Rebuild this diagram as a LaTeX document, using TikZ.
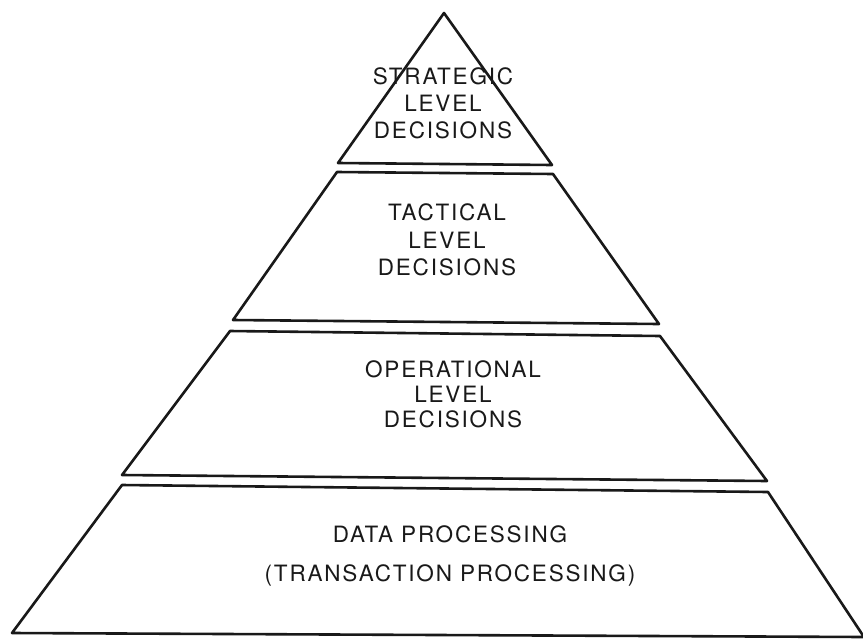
\documentclass[tikz,border=0pt]{standalone}
\usepackage{fontspec}
\setmainfont{TeX Gyre Heros}
\newfontfamily\tierfont[LetterSpace=8]{TeX Gyre Heros}
\begin{document}
\begin{tikzpicture}[x=1pt,y=-1pt,
  tier/.style={draw=black!90, line width=2.6pt, line join=round},
  tiertext/.style={inner sep=0pt, align=center, text=black!90}]
\useasboundingbox[fill=white] (0,0) rectangle (863,638);
% corners
\coordinate (apex) at (444,13);
\coordinate (t1bl) at (338,163);
\coordinate (t1br) at (552,165);
\coordinate (t2tl) at (337,172);
\coordinate (t2tr) at (553,174);
\coordinate (t2bl) at (233,320);
\coordinate (t2br) at (659,324);
\coordinate (t3tl) at (230,331);
\coordinate (t3tr) at (660,336);
\coordinate (t3bl) at (122,475);
\coordinate (t3br) at (767,481);
\coordinate (t4tl) at (122,485);
\coordinate (t4tr) at (768,492);
\coordinate (t4bl) at (12,633);
\coordinate (t4br) at (864,637);
% tiers
\draw[tier] (apex) -- (t1br) -- (t1bl) -- cycle;
\draw[tier] (t2tl) -- (t2tr) -- (t2br) -- (t2bl) -- cycle;
\draw[tier] (t3tl) -- (t3tr) -- (t3br) -- (t3bl) -- cycle;
\draw[tier] (t4tl) -- (t4tr) -- (t4br) -- (t4bl) -- cycle;
% labels
\node[tiertext, font=\tierfont\fontsize{22.5}{27}\selectfont] (l1) at (443,103)
  {STRATEGIC\\LEVEL\\DECISIONS};
\node[tiertext, font=\tierfont\fontsize{22.5}{27.5}\selectfont] (l2) at (447,240)
  {TACTICAL\\LEVEL\\DECISIONS};
\node[tiertext, font=\tierfont\fontsize{22.5}{25}\selectfont] (l3) at (453,394.5)
  {OPERATIONAL\\LEVEL\\DECISIONS};
\node[tiertext, font=\tierfont\fontsize{22.5}{39}\selectfont] (l4) at (450,556)
  {DATA PROCESSING\\(TRANSACTION PROCESSING)};
\end{tikzpicture}
\end{document}
